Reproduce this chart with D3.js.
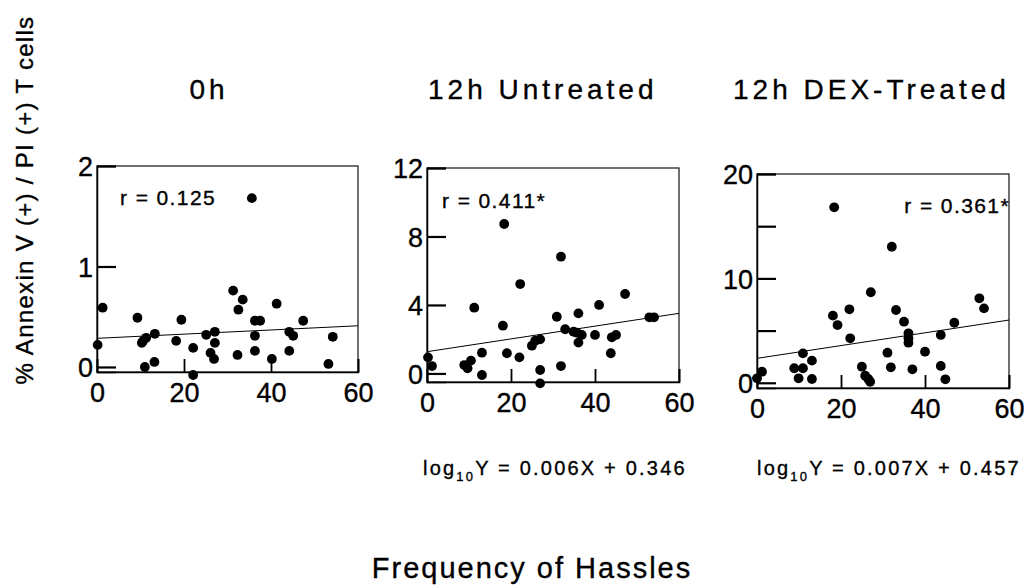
<!DOCTYPE html>
<html>
<head>
<meta charset="utf-8">
<script src="https://cdn.jsdelivr.net/npm/d3@7/dist/d3.min.js"></script>
<style>
  html, body { margin: 0; padding: 0; background: #fff; }
  svg { display: block; font-family: "Liberation Sans", Arial, sans-serif; }
  text { stroke: #000; stroke-width: 0.35px; fill: #000; }
</style>
</head>
<body>
<svg id="chart" width="1032" height="586"></svg>
<script>
// ---------- DATA ----------
const panelTitles = ["0h", "12h Untreated", "12h DEX-Treated"];
const rLabels = ["r = 0.125", "r = 0.411*", "r = 0.361*"];
const equations = [null, ["0.006X + 0.346"], ["0.007X + 0.457"]];

const xTicks = [0, 20, 40, 60];
const yTicks0h = [0, 1, 2];
const yTicks12hU = [0, 4, 8, 12];
const yTicks12hD = [0, 5, 10, 15, 20];
const yLabels12hD = [0, 10, 20];

const hassles0h = [1.3,0.15,9.3,10.3,10.6,11.3,13.3,11.0,13.2,18.2,19.4,22.1,22.1,25.1,26.1,26.9,27.1,27.1,31.3,32.5,33.5,32.3,35.6,36.3,37.5,36.3,36.3,40.2,41.3,44.2,45.1,44.2,47.4,53.2,54.2];
const annexin0h = [0.59,0.22,0.49,0.24,0.26,0.29,0.33,0.00,0.05,0.26,0.47,0.19,-0.08,0.32,0.14,0.08,0.24,0.35,0.76,0.57,0.67,0.12,1.68,0.46,0.46,0.31,0.16,0.08,0.63,0.35,0.31,0.16,0.46,0.03,0.30];

const hassles12hU = [0.24,1.19,8.87,9.66,10.46,11.25,13.08,13.08,18.07,18.38,19.03,22.0,22.19,24.97,25.76,26.94,26.94,26.94,30.9,31.9,31.9,32.9,34.9,36.05,36.05,36.85,35.67,40.0,40.97,43.76,44.0,45.0,47.16,52.94,54.05];
const annexin12hU = [0.94,0.43,0.49,0.30,0.75,3.84,1.21,-0.09,2.79,8.73,1.18,0.94,5.22,1.62,1.91,1.99,0.20,-0.58,3.31,6.82,0.43,2.58,2.44,3.51,1.80,2.25,2.38,2.25,4.0,1.18,2.11,2.25,4.64,3.28,3.28];

const hassles12hD = [0,1.19,8.87,9.9,10.94,10.94,13.08,13.08,18.07,18.38,19.17,22.0,22.2,24.97,25.76,26.5,26.94,27.1,31.06,31.87,32.1,33.1,35.0,36.06,36.06,36.06,37.0,40.0,43.76,43.76,44.85,46.98,52.94,54.05];
const annexin12hD = [0.43,1.06,1.39,0.43,2.82,1.39,2.12,0.36,6.43,16.81,5.53,7.04,4.26,1.54,0.68,0.36,0.1,8.67,2.88,1.48,13.03,6.97,5.85,4.74,3.84,4.26,1.29,2.98,4.58,1.61,0.33,5.75,8.09,7.13];

// fitted line values at x = 0 and x = 60
const fit0h = [0.285, 0.41];
const fit12hU = [1.27, 3.51];
const fit12hD = [2.34, 6.01];

// ---------- LAYOUT ----------
const panels = [
  { x: hassles0h, y: annexin0h, fit: fit0h, yTicks: yTicks0h, yLabels: yTicks0h, yDomain: [-0.05, 2],
    box: { l: 97, r: 358, t: 166, b: 372 }, title: { x: 209, anchor: "middle" },
    r: { x: 120, y: 205, anchor: "start" } },
  { x: hassles12hU, y: annexin12hU, fit: fit12hU, yTicks: yTicks12hU, yLabels: yTicks12hU, yDomain: [-0.5, 12],
    box: { l: 427, r: 679, t: 168, b: 382 }, title: { x: 428, anchor: "start" },
    r: { x: 442, y: 208, anchor: "start" }, eq: { x: 423, y: 475 } },
  { x: hassles12hD, y: annexin12hD, fit: fit12hD, yTicks: yTicks12hD, yLabels: yLabels12hD, yDomain: [-0.5, 20],
    box: { l: 757, r: 1009, t: 174, b: 388 }, title: { x: 733, anchor: "start" },
    r: { x: 1010, y: 213, anchor: "end" }, eq: { x: 757, y: 475 } }
];

const svg = d3.select("#chart");

panels.forEach((p, i) => {
  const xs = d3.scaleLinear().domain([0, 60]).range([p.box.l, p.box.r]);
  const ys = d3.scaleLinear().domain(p.yDomain).range([p.box.b, p.box.t]);
  const g = svg.append("g");

  // frame
  g.append("rect")
    .attr("x", p.box.l).attr("y", p.box.t)
    .attr("width", p.box.r - p.box.l).attr("height", p.box.b - p.box.t)
    .attr("fill", "none").attr("stroke", "#111").attr("stroke-width", 1.2);

  // y axis (inward ticks)
  const yAxis = d3.axisLeft(ys).tickValues(p.yTicks).tickSize(-19).tickPadding(4)
    .tickFormat(d => p.yLabels.includes(d) ? d3.format("d")(d) : "");
  const ga = g.append("g").attr("transform", `translate(${p.box.l},0)`).call(yAxis);
  ga.select(".domain").attr("stroke", "#000").attr("stroke-width", 1.5);
  ga.selectAll(".tick line").attr("stroke", "#000").attr("stroke-width", 2.2);
  ga.selectAll(".tick text").attr("font-size", 27).attr("fill", "#000")
    .attr("font-family", "'Liberation Sans', Arial, sans-serif").attr("dy", "0.36em");

  // x axis
  const xAxis = d3.axisBottom(xs).tickValues(xTicks).tickSize(-13).tickPadding(11).tickFormat(d3.format("d"));
  const gx = g.append("g").attr("transform", `translate(0,${p.box.b})`).call(xAxis);
  gx.select(".domain").attr("stroke", "#000").attr("stroke-width", 1.5);
  gx.selectAll(".tick line").attr("stroke", "#000").attr("stroke-width", 1.8);
  gx.selectAll(".tick text").attr("font-size", 27).attr("fill", "#000")
    .attr("font-family", "'Liberation Sans', Arial, sans-serif");

  // regression line
  g.append("line")
    .attr("x1", xs(0)).attr("y1", ys(p.fit[0]))
    .attr("x2", xs(60)).attr("y2", ys(p.fit[1]))
    .attr("stroke", "#000").attr("stroke-width", 1);

  // points
  g.selectAll("circle").data(p.x.map((v, k) => [v, p.y[k]])).join("circle")
    .attr("cx", d => xs(d[0])).attr("cy", d => ys(d[1])).attr("r", 4.9).attr("fill", "#000");

  // r label
  g.append("text").attr("x", p.r.x).attr("y", p.r.y).attr("text-anchor", p.r.anchor)
    .attr("font-size", 21).attr("letter-spacing", 1.4).text(rLabels[i]);

  // title
  svg.append("text").attr("x", p.title.x).attr("y", 99).attr("text-anchor", p.title.anchor)
    .attr("font-size", 28).attr("letter-spacing", 4).text(panelTitles[i]);

  // equation
  if (equations[i]) {
    const t = svg.append("text").attr("x", p.eq.x).attr("y", p.eq.y)
      .attr("font-size", 20).attr("letter-spacing", 2.2);
    t.append("tspan").text("log");
    t.append("tspan").attr("font-size", 13).attr("dy", 6).text("10");
    t.append("tspan").attr("dy", -6).text("Y = " + equations[i][0]);
  }
});

// axis titles
svg.append("text")
  .attr("transform", "translate(33,200) rotate(-90)")
  .attr("text-anchor", "middle").attr("font-size", 24).attr("letter-spacing", 1.3)
  .text("% Annexin V (+) / PI (+) T cells");

svg.append("text").attr("x", 532).attr("y", 578).attr("text-anchor", "middle")
  .attr("font-size", 29).attr("letter-spacing", 2)
  .text("Frequency of Hassles");
</script>
</body>
</html>
